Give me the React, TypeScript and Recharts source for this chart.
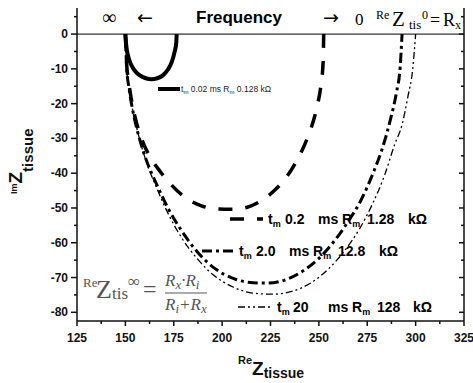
import React from 'react';
import { LineChart, Line, XAxis, YAxis, ReferenceLine } from 'recharts';

const xTicks = [125, 137.5, 150, 162.5, 175, 187.5, 200, 212.5, 225, 237.5, 250, 262.5, 275, 287.5, 300, 312.5, 325];
const yTicks = [-80, -75, -70, -65, -60, -55, -50, -45, -40, -35, -30, -25, -20, -15, -10, -5, 0, 5];

// t_m 0.02 ms, R_m 0.128 kOhm
const re002 = [150, 150.5, 151.5, 153, 155, 157.5, 160.5, 163.5, 166.5, 169.5, 172, 174, 175.5, 176.3, 176.5];
const im002 = [0, -3.5, -6.5, -8.8, -10.6, -11.9, -12.7, -13, -12.7, -11.8, -10.2, -8, -5, -2.5, 0];

// t_m 0.2 ms, R_m 1.28 kOhm
const re02 = [150, 150.6, 151.8, 153.5, 156, 159, 163, 168, 174, 181, 189, 197, 205, 213, 220, 227, 233, 238, 242.5, 246, 249, 251, 252.2, 252.5];
const im02 = [0, -8, -14, -20, -26, -31, -35.5, -39.5, -43.5, -47, -49.3, -50.3, -50.4, -49.8, -48, -45, -41.3, -37, -32, -27, -21, -15, -8, 0];

// t_m 2.0 ms, R_m 12.8 kOhm
const re20 = [150, 150.6, 152, 154, 157, 161, 166, 172, 179, 187, 196, 206, 216, 224, 232, 241, 250, 258, 265, 272, 278, 283, 287, 290, 292, 293];
const im20 = [0, -9, -16, -22.5, -29.5, -36.5, -43, -50, -56.5, -62.5, -67.3, -70.3, -71.5, -71.6, -70.8, -68.4, -64.5, -59.5, -54, -47.5, -40, -32.5, -24.5, -17, -9.5, 0];

// t_m 20 ms, R_m 128 kOhm
const re200 = [150, 150.6, 152, 154, 157, 161, 166, 172, 179, 187, 196, 206, 216, 226, 236, 246, 255, 263, 271, 278, 284, 289, 293, 296, 298.5, 300];
const im200 = [0, -9, -16, -22.5, -29.5, -37, -44, -51.5, -58.5, -64.5, -69.5, -72.8, -74.5, -74.8, -74, -71.5, -67.5, -62.5, -56, -48.5, -40.5, -32, -26, -18, -10, 0];

const toPoints = (re: number[], im: number[]) => re.map((r, i) => ({ re: r, im: im[i] }));

const SANS = "'Liberation Sans', Arial, sans-serif";
const SERIF = "'Liberation Serif', 'Times New Roman', serif";

const DASH_02 = '14 13';
const DASH_20 = '10 4 3 4';
const DASH_200 = '7 3 2 3 2 3';

const XTick = (props: any) => {
  const { x, y, payload } = props;
  const major = payload.value % 25 === 0;
  return (
    <g>
      <line x1={x} x2={x} y1={y} y2={y + (major ? 5 : 3)} stroke="#111" strokeWidth={1.5} />
      {major && (
        <text x={x} y={y + 21} textAnchor="middle" fontFamily={SANS} fontWeight="bold" fontSize={12} fill="#111">
          {payload.value}
        </text>
      )}
    </g>
  );
};

const YTick = (props: any) => {
  const { x, y, payload } = props;
  const major = payload.value % 10 === 0;
  return (
    <g>
      <line x1={x} x2={x - (major ? 6 : 3)} y1={y} y2={y} stroke="#111" strokeWidth={1.5} />
      {major && (
        <text x={x - 9} y={y + 4} textAnchor="end" fontFamily={SANS} fontWeight="bold" fontSize={12} fill="#111">
          {payload.value}
        </text>
      )}
    </g>
  );
};

const RightTick = (props: any) => {
  const { x, y, payload } = props;
  const major = payload.value % 10 === 0;
  return <line x1={x} x2={x - (major ? 5 : 3)} y1={y} y2={y} stroke="#111" strokeWidth={1.5} />;
};

const Overlay = () => (
  <svg width={473} height={383} style={{ position: 'absolute', left: 0, top: 0, pointerEvents: 'none' }}>
    {/* top annotation */}
    <text x={102} y={24} fontFamily={SERIF} fontSize={20}>∞</text>
    <text x={137} y={24} fontFamily="'DejaVu Sans', sans-serif" fontSize={19}>←</text>
    <text x={196} y={23} fontFamily={SANS} fontWeight="bold" fontSize={17}>Frequency</text>
    <text x={323} y={24} fontFamily="'DejaVu Sans', sans-serif" fontSize={19}>→</text>
    <text x={355} y={25} fontFamily={SERIF} fontSize={17}>0</text>
    <text fontFamily={SERIF}>
      <tspan x={376} y={19} fontSize={12}>Re</tspan>
      <tspan x={392} y={26} fontSize={21}>Z</tspan>
      <tspan x={409} y={29} fontSize={13}>tis</tspan>
      <tspan x={422} y={19} fontSize={12}>0</tspan>
      <tspan x={430} y={26} fontSize={18}>=</tspan>
      <tspan x={443} y={26} fontSize={18}>R</tspan>
      <tspan x={455} y={29} fontSize={12}>x</tspan>
    </text>

    {/* legend: 0.02 ms */}
    <line x1={158} x2={180} y1={89} y2={89} stroke="#000" strokeWidth={4} />
    <text x={181} y={92} fontFamily={SANS} fontSize={8.5} fill="#222" style={{ whiteSpace: 'pre' }}>
      t<tspan dy={2} fontSize={6}>m</tspan>
      <tspan dy={-2}> 0.02 ms R</tspan>
      <tspan dy={2} fontSize={6}>m</tspan>
      <tspan dy={-2}> 0.128 kΩ</tspan>
    </text>

    {/* legend: 0.2 ms */}
    <line x1={230} x2={263} y1={219} y2={219} stroke="#000" strokeWidth={3.5} strokeDasharray={DASH_02} />
    <text fontFamily={SANS} fontWeight="bold" fontSize={14}>
      <tspan x={268} y={224}>t</tspan>
      <tspan dy={3} fontSize={9}>m</tspan>
      <tspan x={285} y={224}>0.2</tspan>
      <tspan x={318} y={224}>ms R</tspan>
      <tspan dy={3} fontSize={9}>m</tspan>
      <tspan x={367} y={224}>1.28</tspan>
      <tspan x={408} y={224}>kΩ</tspan>
    </text>

    {/* legend: 2.0 ms */}
    <line x1={202} x2={236} y1={251} y2={251} stroke="#000" strokeWidth={3} strokeDasharray={DASH_20} />
    <text fontFamily={SANS} fontWeight="bold" fontSize={14}>
      <tspan x={239} y={256}>t</tspan>
      <tspan dy={3} fontSize={9}>m</tspan>
      <tspan x={256} y={256}>2.0</tspan>
      <tspan x={289} y={256}>ms R</tspan>
      <tspan dy={3} fontSize={9}>m</tspan>
      <tspan x={338} y={256}>12.8</tspan>
      <tspan x={379} y={256}>kΩ</tspan>
    </text>

    {/* legend: 20 ms */}
    <line x1={238} x2={273} y1={307} y2={307} stroke="#000" strokeWidth={1.3} strokeDasharray={DASH_200} />
    <text fontFamily={SANS} fontWeight="bold" fontSize={14}>
      <tspan x={277} y={312}>t</tspan>
      <tspan dy={3} fontSize={9}>m</tspan>
      <tspan x={293} y={312}>20</tspan>
      <tspan x={328} y={312}>ms R</tspan>
      <tspan dy={3} fontSize={9}>m</tspan>
      <tspan x={377} y={312}>128</tspan>
      <tspan x={413} y={312}>kΩ</tspan>
    </text>

    {/* formula */}
    <text fontFamily={SERIF} fill="#555">
      <tspan x={83} y={287} fontSize={13}>Re</tspan>
      <tspan x={96} y={298} fontSize={26}>Z</tspan>
      <tspan x={112} y={299} fontSize={17}>tis</tspan>
      <tspan x={128} y={287} fontSize={17}>∞</tspan>
      <tspan x={143} y={297} fontSize={24}>=</tspan>
    </text>
    <text fontFamily={SERIF} fontStyle="italic" fill="#555" fontSize={17}>
      <tspan x={165} y={286}>R</tspan>
      <tspan dy={3} fontSize={13}>x</tspan>
      <tspan dy={-3}>·R</tspan>
      <tspan dy={3} fontSize={13}>i</tspan>
      <tspan x={165} y={310}>R</tspan>
      <tspan dy={3} fontSize={13}>i</tspan>
      <tspan dy={-3}>+R</tspan>
      <tspan dy={3} fontSize={13}>x</tspan>
    </text>
    <line x1={165} x2={207} y1={293} y2={293} stroke="#555" strokeWidth={1} />

    {/* axis titles */}
    <text transform="translate(22,194) rotate(-90)" fontFamily={SANS} fontWeight="bold" fill="#111">
      <tspan x={0} y={-5} fontSize={9}>Im</tspan>
      <tspan y={0} fontSize={19}>Z</tspan>
      <tspan y={10.5} fontSize={15}>tissue</tspan>
    </text>
    <text fontFamily={SANS} fontWeight="bold" fill="#111">
      <tspan x={238} y={364} fontSize={11}>Re</tspan>
      <tspan y={375} fontSize={19}>Z</tspan>
      <tspan y={378} fontSize={14}>tissue</tspan>
    </text>
  </svg>
);

export default function App() {
  return (
    <div style={{ position: 'absolute', left: 0, top: 0, width: 473, height: 383, background: '#fff' }}>
      <LineChart width={473} height={383} margin={{ top: 8, right: 8, bottom: 0, left: 0 }}>
        <XAxis
          dataKey="re"
          type="number"
          domain={[125, 325]}
          ticks={xTicks}
          interval={0}
          allowDataOverflow
          height={62}
          tickSize={0}
          tickMargin={0}
          tickLine={false}
          tick={<XTick />}
          axisLine={{ stroke: '#111', strokeWidth: 1.5 }}
        />
        <YAxis
          type="number"
          domain={[-82.5, 7.5]}
          ticks={yTicks}
          interval={0}
          allowDataOverflow
          width={77}
          tickSize={0}
          tickMargin={0}
          tickLine={false}
          tick={<YTick />}
          axisLine={{ stroke: '#111', strokeWidth: 1.5 }}
        />
        <YAxis
          yAxisId="right"
          orientation="right"
          type="number"
          domain={[-82.5, 7.5]}
          ticks={yTicks}
          interval={0}
          allowDataOverflow
          width={1}
          tickSize={0}
          tickMargin={0}
          tickLine={false}
          tick={<RightTick />}
          axisLine={{ stroke: '#111', strokeWidth: 1.5 }}
        />
        <ReferenceLine y={0} stroke="#333" strokeWidth={1.2} />
        <Line data={toPoints(re002, im002)} dataKey="im" type="monotone" stroke="#000" strokeWidth={4} dot={false} isAnimationActive={false} />
        <Line data={toPoints(re02, im02)} dataKey="im" type="monotone" stroke="#000" strokeWidth={3.5} strokeDasharray={DASH_02} dot={false} isAnimationActive={false} />
        <Line data={toPoints(re20, im20)} dataKey="im" type="monotone" stroke="#000" strokeWidth={3} strokeDasharray={DASH_20} dot={false} isAnimationActive={false} />
        <Line data={toPoints(re200, im200)} dataKey="im" type="monotone" stroke="#000" strokeWidth={1.3} strokeDasharray={DASH_200} dot={false} isAnimationActive={false} />
      </LineChart>
      <Overlay />
    </div>
  );
}
